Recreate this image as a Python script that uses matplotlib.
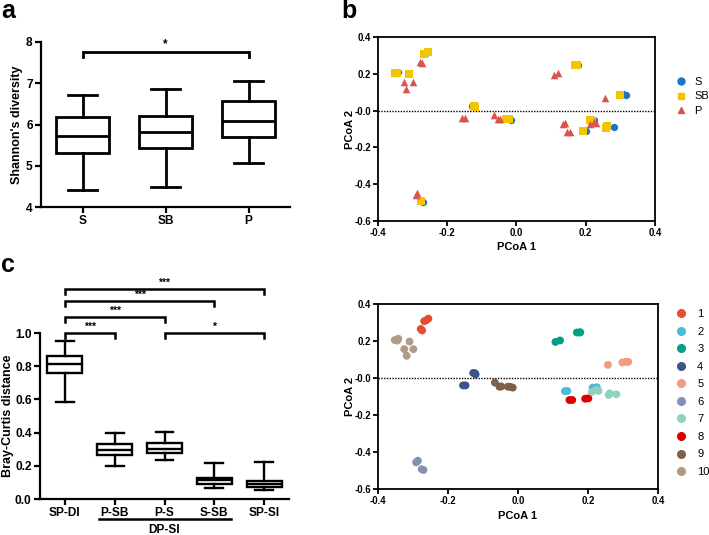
import matplotlib
matplotlib.use("Agg")
import matplotlib.pyplot as plt
from matplotlib.lines import Line2D
import matplotlib.transforms as mtransforms

plt.rcParams['font.family'] = ['Liberation Sans', 'DejaVu Sans']

# ---------------- data ----------------
# panel a: Shannon diversity box stats
a_categories = ["S", "SB", "P"]
a_whislo = [4.40, 4.48, 5.07]
a_q1 = [5.31, 5.43, 5.70]
a_med = [5.73, 5.82, 6.08]
a_q3 = [6.17, 6.20, 6.56]
a_whishi = [6.71, 6.87, 7.05]

# panel c: Bray-Curtis distance box stats
c_categories = ["SP-DI", "P-SB", "P-S", "S-SB", "SP-SI"]
c_whislo = [0.587, 0.200, 0.234, 0.067, 0.052]
c_q1 = [0.758, 0.264, 0.278, 0.093, 0.073]
c_med = [0.812, 0.294, 0.304, 0.113, 0.093]
c_q3 = [0.859, 0.329, 0.335, 0.129, 0.109]
c_whishi = [0.950, 0.400, 0.403, 0.214, 0.224]
c_pairs = [(0, 1), (0, 2), (0, 3), (0, 4), (2, 4)]
c_levels = [1.0, 1.095, 1.19, 1.265, 1.0]
c_stars = ["***", "***", "***", "***", "*"]

# panels b/d: PCoA coordinates, grouped by site and individual
s_x = [-0.262, 0.225, 0.178, -0.128, 0.309, 0.315, -0.270, 0.281, 0.201, -0.015, -0.342]
s_y = [0.312, -0.050, 0.247, 0.027, 0.088, 0.087, -0.497, -0.088, -0.110, -0.052, 0.212]
s_ind = [1, 2, 3, 4, 5, 5, 6, 7, 8, 9, 10]

sb_x = [-0.268, -0.256, 0.218, 0.213, 0.168, 0.176, -0.121, -0.123, 0.298, -0.275,
        0.259, 0.262, 0.192, -0.029, -0.022, -0.352, -0.345, -0.310]
sb_y = [0.307, 0.321, -0.056, -0.052, 0.246, 0.246, 0.020, 0.026, 0.084, -0.493,
        -0.092, -0.083, -0.112, -0.047, -0.048, 0.205, 0.202, 0.197]
sb_ind = [1, 1, 2, 2, 3, 3, 4, 4, 5, 6, 7, 7, 8, 9, 9, 10, 10, 10]

p_x = [-0.278, -0.274, 0.134, 0.141, 0.107, 0.120, -0.157, -0.150, 0.257, -0.291,
       -0.286, 0.211, 0.224, 0.230, 0.147, 0.155, -0.066, -0.053, -0.048,
       -0.325, -0.299, -0.318]
p_y = [0.265, 0.257, -0.071, -0.070, 0.195, 0.203, -0.040, -0.040, 0.071, -0.456,
       -0.447, -0.075, -0.064, -0.070, -0.119, -0.119, -0.025, -0.047, -0.046,
       0.156, 0.156, 0.120]
p_ind = [1, 1, 2, 2, 3, 3, 4, 4, 5, 6, 6, 7, 7, 7, 8, 8, 9, 9, 9, 10, 10, 10]

group_labels = ["S", "SB", "P"]
group_colors = ["#1877C9", "#F2C500", "#D9534F"]
group_markers = ["o", "s", "^"]

ind_labels = [str(i) for i in range(1, 11)]
ind_colors = ['#E64B35', '#4DBBD5', '#00A087', '#3C5488', '#F39B7F',
              '#8491B4', '#91D1C2', '#DC0000', '#7E6148', '#B09C85']

pcoa_ticks = [-0.4, -0.2, 0.0, 0.2, 0.4]
pcoa_xticklabels = ["-0.4", "-0.2", "0.0", "0.2", "0.4"]
pcoa_yticks = [-0.6, -0.4, -0.2, 0.0, 0.2, 0.4]
pcoa_yticklabels = ["-0.6", "-0.4", "-0.2", "-0.0", "0.2", "0.4"]

# ---------------- figure ----------------
W, H = 709, 535
fig = plt.figure(figsize=(W / 100, H / 100), dpi=100)


def ax_px(l, r, t, b):
    return fig.add_axes([l / W, 1 - b / H, (r - l) / W, (b - t) / H])


BOLD = dict(fontweight='bold')
TICK_FS = 8.6

# ---------- panel a ----------
ax_a = ax_px(41, 290, 42, 207)
stats_a = [dict(med=m, q1=q1, q3=q3, whislo=lo, whishi=hi, fliers=[])
           for m, q1, q3, lo, hi in zip(a_med, a_q1, a_q3, a_whislo, a_whishi)]
lw_a = 2.0
ax_a.bxp(stats_a, positions=range(len(a_categories)), widths=0.64, capwidths=0.34,
         patch_artist=True, showfliers=False,
         boxprops=dict(facecolor='white', edgecolor='black', linewidth=lw_a),
         medianprops=dict(color='black', linewidth=lw_a),
         whiskerprops=dict(color='black', linewidth=lw_a),
         capprops=dict(color='black', linewidth=lw_a))
ax_a.set_xlim(-0.5, 2.5)
ax_a.set_ylim(4, 8)
ax_a.set_yticks([4, 5, 6, 7, 8])
ax_a.set_xticks(range(len(a_categories)))
ax_a.set_xticklabels(a_categories, fontsize=TICK_FS, **BOLD)
ax_a.set_yticklabels(["4", "5", "6", "7", "8"], fontsize=TICK_FS, **BOLD)
for s in ['top', 'right']:
    ax_a.spines[s].set_visible(False)
for s in ['left', 'bottom']:
    ax_a.spines[s].set_linewidth(1.6)
ax_a.tick_params(width=1.6, length=4, pad=2)
ax_a.set_ylabel("Shannon's diversity", fontsize=9, **BOLD)
ax_a.yaxis.set_label_coords(-0.072, 0.5)
# bracket
ax_a.plot([0, 0, 2, 2], [7.63, 7.76, 7.76, 7.63], color='black', lw=2, clip_on=False,
          solid_joinstyle='miter')
ax_a.text(1, 7.80, "*", ha='center', va='bottom', fontsize=8.5, **BOLD)

# ---------- panel b ----------
ax_b = ax_px(378, 655, 37, 221)
ax_b.axhline(0, color='black', lw=1.0, ls=(0, (1, 1)), zorder=1)
ax_b.scatter(s_x, s_y, s=28, marker='o', color=group_colors[0], linewidths=0, zorder=2)
ax_b.scatter(sb_x, sb_y, s=28, marker='s', color=group_colors[1], linewidths=0, zorder=3)
ax_b.scatter(p_x, p_y, s=30, marker='^', color=group_colors[2], linewidths=0, zorder=4)


def style_pcoa(ax, xlab_y):
    ax.set_xlim(-0.4, 0.4)
    ax.set_ylim(-0.6, 0.4)
    ax.set_xticks(pcoa_ticks)
    ax.set_xticklabels(pcoa_xticklabels, fontsize=6.9, **BOLD)
    ax.set_yticks(pcoa_yticks)
    ax.set_yticklabels(pcoa_yticklabels, fontsize=6.9, **BOLD)
    for s in ax.spines.values():
        s.set_linewidth(1.3)
    ax.tick_params(width=1.3, length=3.5, pad=1.2)
    ax.set_xlabel("PCoA 1", fontsize=8, **BOLD)
    ax.set_ylabel("PCoA 2", fontsize=8, **BOLD)
    ax.yaxis.set_label_coords(-0.082, 0.5)
    ax.xaxis.set_label_coords(0.5, xlab_y)


style_pcoa(ax_b, -0.114)
handles_b = [Line2D([], [], ls='none', marker=m, color=c, markersize=5.0)
             for m, c in zip(group_markers, group_colors)]
ax_b.legend(handles_b, group_labels, loc='upper left',
            bbox_to_anchor=(675 / W, 1 - 77 / H), bbox_transform=fig.transFigure,
            frameon=False, fontsize=8, handlelength=1.0, handletextpad=0.75,
            borderpad=0, borderaxespad=0, labelspacing=0.4)

# ---------- panel c ----------
ax_c = ax_px(40, 289, 333, 499)
stats_c = [dict(med=m, q1=q1, q3=q3, whislo=lo, whishi=hi, fliers=[])
           for m, q1, q3, lo, hi in zip(c_med, c_q1, c_q3, c_whislo, c_whishi)]
lw_c = 1.7
ax_c.bxp(stats_c, positions=range(len(c_categories)), widths=0.70, capwidths=0.36,
         patch_artist=True, showfliers=False,
         boxprops=dict(facecolor='white', edgecolor='black', linewidth=lw_c),
         medianprops=dict(color='black', linewidth=lw_c),
         whiskerprops=dict(color='black', linewidth=lw_c),
         capprops=dict(color='black', linewidth=lw_c))
ax_c.set_xlim(-0.5, 4.5)
ax_c.set_ylim(0, 1.0)
ax_c.set_yticks([0.0, 0.2, 0.4, 0.6, 0.8, 1.0])
ax_c.set_yticklabels(["0.0", "0.2", "0.4", "0.6", "0.8", "1.0"], fontsize=TICK_FS, **BOLD)
ax_c.set_xticks(range(len(c_categories)))
ax_c.set_xticklabels(c_categories, fontsize=TICK_FS, **BOLD)
for s in ['top', 'right']:
    ax_c.spines[s].set_visible(False)
for s in ['left', 'bottom']:
    ax_c.spines[s].set_linewidth(1.6)
ax_c.tick_params(width=1.6, length=4, pad=2)
ax_c.set_ylabel("Bray-Curtis distance", fontsize=9, **BOLD)
ax_c.yaxis.set_label_coords(-0.106, 0.5)
for (i, j), lev, st in zip(c_pairs, c_levels, c_stars):
    ax_c.plot([i, i, j, j], [lev - 0.03, lev, lev, lev - 0.03], color='black', lw=1.8,
              clip_on=False, solid_joinstyle='miter')
    ax_c.text((i + j) / 2, lev + 0.008, st, ha='center', va='bottom', fontsize=7.5, **BOLD)
trans = mtransforms.blended_transform_factory(ax_c.transData, ax_c.transAxes)
ax_c.plot([0.68, 3.33], [-0.122, -0.122], color='black', lw=1.8, transform=trans,
          clip_on=False)
ax_c.text(2, -0.15, "DP-SI", ha='center', va='top', fontsize=TICK_FS, transform=trans, **BOLD)

# ---------- panel d ----------
ax_d = ax_px(378, 658, 304, 489)
ax_d.axhline(0, color='black', lw=1.0, ls=(0, (1, 1)), zorder=1)
all_x = s_x + sb_x + p_x
all_y = s_y + sb_y + p_y
all_ind = s_ind + sb_ind + p_ind
ax_d.scatter(all_x, all_y, s=32, marker='o',
             color=[ind_colors[i - 1] for i in all_ind], linewidths=0, zorder=2)
style_pcoa(ax_d, -0.119)
handles_d = [Line2D([], [], ls='none', marker='o', color=c, markersize=5.5)
             for c in ind_colors]
ax_d.legend(handles_d, ind_labels, loc='upper left',
            bbox_to_anchor=(675 / W, 1 - 309 / H), bbox_transform=fig.transFigure,
            frameon=False, fontsize=8, handlelength=1.0, handletextpad=1.0,
            borderpad=0, borderaxespad=0, labelspacing=0.68)

# ---------- panel letters ----------
fig.text(1 / W, 1 - 18 / H, "a", fontsize=18, va='baseline', ha='left', **BOLD)
fig.text(341 / W, 1 - 18 / H, "b", fontsize=18, va='baseline', ha='left', **BOLD)
fig.text(1 / W, 1 - 272 / H, "c", fontsize=18, va='baseline', ha='left', **BOLD)

fig.savefig("out.png", dpi=100)
